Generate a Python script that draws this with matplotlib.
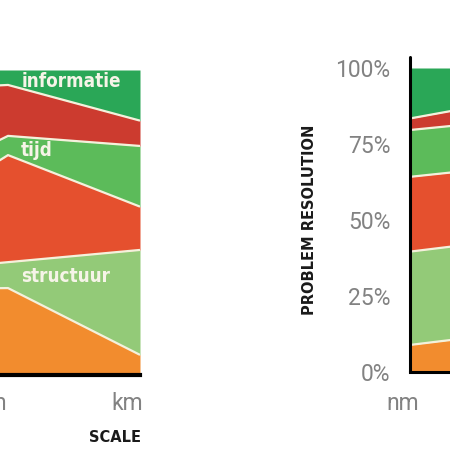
import numpy as np
import matplotlib
matplotlib.use("Agg")
import matplotlib.pyplot as plt

# shares per layer (bottom -> top) at scale points 0, 1, 2
scale_x = [0, 1, 2]
layer_names = ["oranje", "structuur", "rood", "tijd", "donkerrood", "informatie"]
layer_colors = ["#f28c2e", "#93ca78", "#e5502e", "#5cbb5a", "#cc3b2f", "#2aa757"]

left_orange = [28.0, 28.5, 6.6]
left_structuur = [5.0, 8.5, 34.4]
left_red = [12.0, 35.1, 14.2]
left_tijd = [12.0, 6.3, 19.9]
left_darkred = [36.0, 16.7, 8.3]
left_informatie = [7.0, 4.9, 16.6]

right_orange = [8.9, 14.2, 20.0]
right_structuur = [30.7, 30.7, 30.0]
right_red = [24.6, 23.9, 23.0]
right_tijd = [15.4, 15.1, 15.0]
right_darkred = [3.8, 7.4, 8.0]
right_informatie = [16.6, 8.7, 4.0]

pct_ticks = [0, 25, 50, 75, 100]
pct_labels = ["0%", "25%", "50%", "75%", "100%"]

grey = "#828282"
edge = "#f4f1dc"


def draw_stack(ax, layers):
    x = np.array(scale_x, dtype=float)
    bottom = np.zeros(len(x))
    for vals, col in zip(layers, layer_colors):
        top = bottom + np.array(vals)
        ax.fill_between(x, bottom, top, color=col, lw=0)
        bottom = top
    # white lines between the layers
    bottom = np.zeros(len(x))
    for vals in layers[:-1]:
        bottom = bottom + np.array(vals)
        ax.plot(x, bottom, color=edge, lw=1.6, solid_capstyle="butt")
    ax.set_xlim(0, 2)
    ax.set_ylim(0, 100)


fig = plt.figure(figsize=(4.5, 4.5), dpi=100)

# left chart (mostly outside the picture)
ax1 = fig.add_axes([-124 / 450, 75 / 450, 264 / 450, 305 / 450])
draw_stack(ax1, [left_orange, left_structuur, left_red, left_tijd,
                 left_darkred, left_informatie])
for s in ["left", "right", "top"]:
    ax1.spines[s].set_visible(False)
ax1.spines["bottom"].set_color("black")
ax1.spines["bottom"].set_linewidth(3)
ax1.set_xticks([])
ax1.set_yticks([])
lab_kw = dict(color="#f6f4e8", fontsize=13.5, fontweight="bold",
              family="DejaVu Sans", fontstretch="condensed", va="center")
ax1.text(1.1, 96.3, "informatie", **lab_kw)
ax1.text(1.1, 73.5, "tijd", **lab_kw)
ax1.text(1.1, 32.3, "structuur", **lab_kw)
fig.text(7 / 450, 1 - 404 / 450, "nm", ha="right", va="center", color=grey,
         fontsize=16.5, family="Roboto")
fig.text(127 / 450, 1 - 404 / 450, "km", ha="center", va="center", color=grey,
         fontsize=16.5, family="Roboto")
fig.text(115.5 / 450, 1 - 437 / 450, "SCALE", ha="center", va="center",
         color="#1a1a1a", fontsize=10.5, fontweight="bold")

# right chart (mostly outside the picture)
ax2 = fig.add_axes([410 / 450, 78 / 450, 264 / 450, 304 / 450])
draw_stack(ax2, [right_orange, right_structuur, right_red, right_tijd,
                 right_darkred, right_informatie])
for s in ["right", "top", "left"]:
    ax2.spines[s].set_visible(False)
ax2.spines["bottom"].set_color("black")
ax2.spines["bottom"].set_linewidth(2.2)
# hand-drawn style axis: sticks out a bit above 100%
ax2.plot([0, 0], [0, 103.5], color="black", lw=2.2, clip_on=False,
         solid_capstyle="round")
ax2.set_xticks([])
ax2.set_yticks(pct_ticks)
ax2.set_yticklabels(pct_labels, color=grey, fontsize=16.5, family="Roboto")
ax2.tick_params(axis="y", length=0, pad=14)
fig.text(310 / 450, 1 - 220 / 450, "PROBLEM RESOLUTION", rotation=90,
         ha="center", va="center", fontsize=10.5, fontweight="bold",
         color="#1a1a1a")
fig.text(403 / 450, 1 - 404 / 450, "nm", ha="center", va="center", color=grey,
         fontsize=16.5, family="Roboto")

fig.savefig("out.png", dpi=100)
